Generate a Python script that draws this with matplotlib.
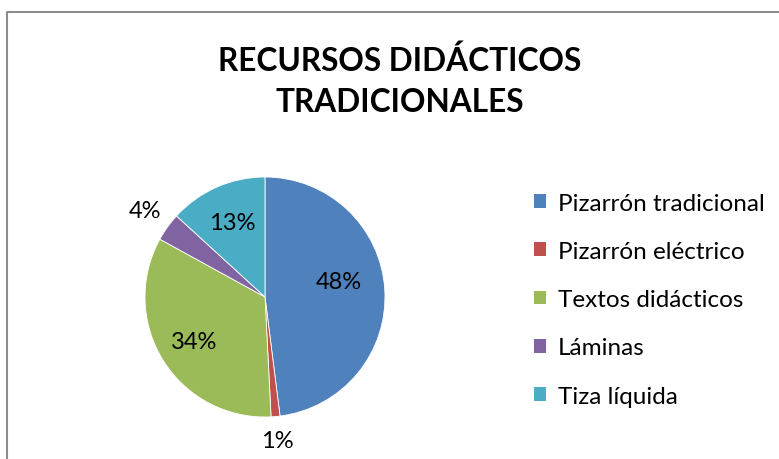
import numpy as np
import matplotlib.pyplot as plt
from matplotlib.lines import Line2D
from matplotlib.patches import Patch

plt.rcParams['font.family'] = ['Lato', 'DejaVu Sans']

labels = ['Pizarrón tradicional', 'Pizarrón eléctrico', 'Textos didácticos', 'Láminas', 'Tiza líquida']
values = [48.0, 1.2, 33.8, 3.8, 13.2]
pct_text = ['48%', '1%', '34%', '4%', '13%']
colors = ['#4F81BD', '#C0504D', '#9BBB59', '#8064A2', '#4BACC6']
label_dist = [0.63, 1.20, 0.70, 1.23, 0.68]
label_turn = [8, 0, 0, 0, 0]  # degrees, Excel "best fit" nudges

W, H = 779, 460
fig = plt.figure(figsize=(W / 100, H / 100), dpi=100)

# pie axes: centre (265, 298) px, radius 120 px
cx, cy, r = 265, 298, 120
ax = fig.add_axes([(cx - r) / W, (H - cy - r) / H, 2 * r / W, 2 * r / H])
wedges, _ = ax.pie(values, colors=colors, startangle=90, counterclock=False,
                   radius=1, wedgeprops=dict(linewidth=0.6, edgecolor='white'))
ax.set_xlim(-1, 1)
ax.set_ylim(-1, 1)
ax.set_aspect('equal')
ax.axis('off')

for w, txt, d, t in zip(wedges, pct_text, label_dist, label_turn):
    ang = np.deg2rad((w.theta1 + w.theta2) / 2 + t)
    ax.text(d * np.cos(ang), d * np.sin(ang), txt, ha='center', va='center',
            fontsize=17, color='black', clip_on=False)

fig.text(400 / W, 1 - 81 / H, 'RECURSOS DIDÁCTICOS\nTRADICIONALES',
         ha='center', va='center', fontsize=22.8, fontweight='bold', linespacing=1.5)

handles = [Patch(facecolor=c, edgecolor='none') for c in colors]
fig.legend(handles, labels, loc='upper left', bbox_to_anchor=(524 / W, 1 - 184 / H),
           frameon=False, fontsize=17.5, handlelength=0.5, handleheight=0.5,
           handletextpad=0.5, labelspacing=1.12, borderaxespad=0)

# chart frame (only top and left edges visible in the crop)
fig.add_artist(Line2D([7 / W, 7 / W, 1], [0, 1 - 13 / H, 1 - 13 / H],
                      transform=fig.transFigure, color='#8c8c8c', lw=1.5))

fig.savefig('out.png', dpi=100)
